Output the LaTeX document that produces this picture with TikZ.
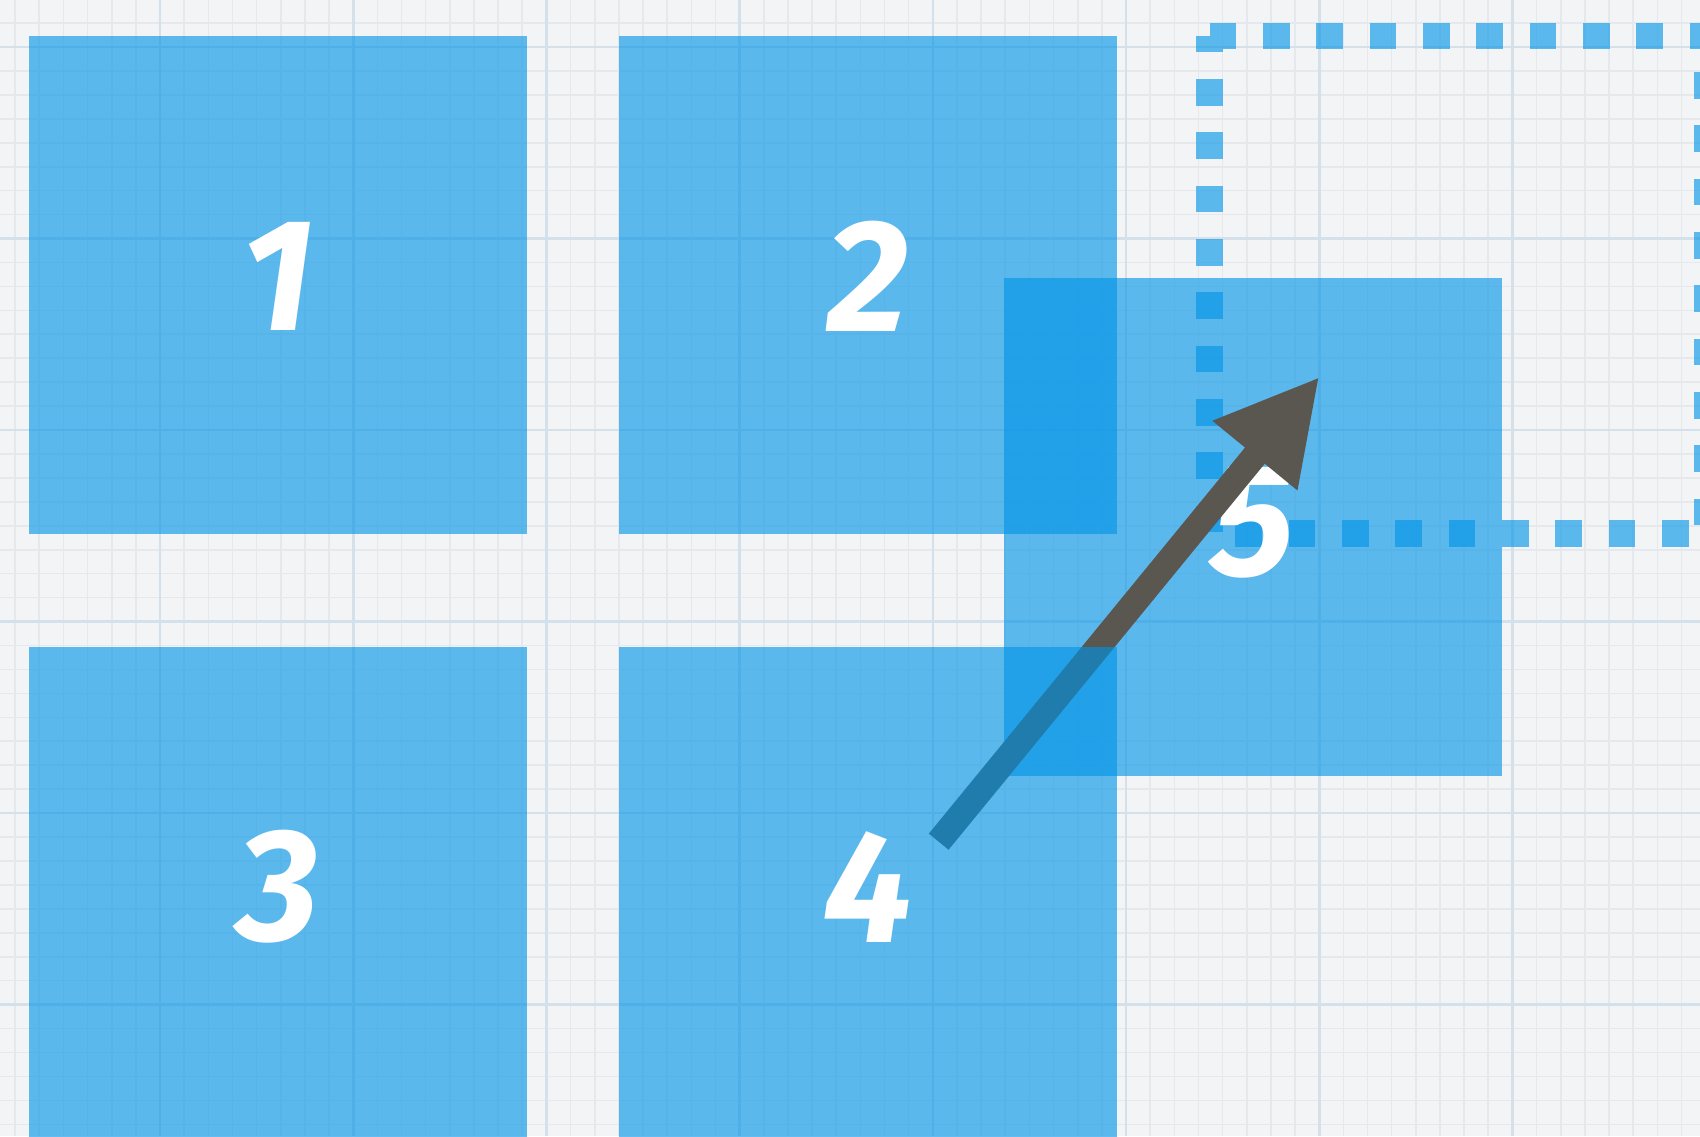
\documentclass[tikz,border=0pt]{standalone}
\usepackage{fontspec}
\newfontfamily\numfont{Fira Sans}
\usetikzlibrary{arrows.meta}
\definecolor{paper}{RGB}{243,244,246}
\definecolor{gridminor}{RGB}{229,233,237}
\definecolor{gridmajor}{RGB}{212,225,234}
\definecolor{boxblue}{RGB}{0,148,232}
\definecolor{arrowgrey}{RGB}{90,86,80}
\tikzset{
  tile/.style={fill=boxblue, fill opacity=0.625, draw=none, minimum width=497.5pt,
    minimum height=497.5pt, inner sep=0pt, outer sep=0pt},
  numlabel/.style={text=white, inner sep=0pt,
    font=\numfont\bfseries\itshape\fontsize{160}{160}\selectfont},
  minorgrid/.style={draw=gridminor, line width=1.6pt},
  majorgrid/.style={draw=gridmajor, line width=2.6pt},
  ghost/.style={draw=boxblue, draw opacity=0.625, line width=26.7pt,
    dash pattern=on 26.67pt off 26.67pt, line cap=butt, line join=miter},
  arrowline/.style={draw=arrowgrey, fill=arrowgrey, line width=25.5pt,
    -{Triangle[length=102pt,width=102pt]}}
}
\begin{document}
\begin{tikzpicture}[x=1pt,y=-1pt]
\useasboundingbox (0,0) rectangle (1700,1136);
\clip (0,0) rectangle (1700,1136);
% paper with grid
\fill[paper] (0,0) rectangle (1700,1136);
\foreach \i in {-7,...,64} {
  \pgfmathsetmacro\xx{160+24.15*\i}
  \draw[minorgrid] (\xx,0) -- (\xx,1136);
}
\foreach \i in {-2,...,46} {
  \pgfmathsetmacro\yy{47+23.94*\i}
  \draw[minorgrid] (0,\yy) -- (1700,\yy);
}
\foreach \i in {-1,...,8} {
  \pgfmathsetmacro\xx{160+193.2*\i}
  \draw[majorgrid] (\xx,0) -- (\xx,1136);
}
\foreach \i in {0,...,5} {
  \pgfmathsetmacro\yy{47+191.5*\i}
  \draw[majorgrid] (0,\yy) -- (1700,\yy);
}
% tiles 1-3
\node[tile] (b1) at (278,285) {};
\node[tile] (b2) at (868,285) {};
\node[tile] (b3) at (278,896) {};
\node[numlabel] (n1) at ([yshift=9pt]b1.center) {1};
\node[numlabel] (n2) at ([yshift=9pt]b2.center) {2};
\node[numlabel] (n3) at ([yshift=9pt]b3.center) {3};
% dotted target outline
\coordinate (g1) at (1209.5,36);
\coordinate (g2) at (1707,36);
\coordinate (g3) at (1707,533.5);
\coordinate (g4) at (1209.5,533.5);
\draw[ghost] (g1) -- (g2) -- (g3) -- (g4) -- (g1);
% tile 5
\node[tile] (b5) at (1253,527) {};
\node[numlabel] (n5) at ([yshift=4pt]b5.center) {5};
% arrow
\coordinate (tail) at (938.7,841.7);
\coordinate (tip) at (1319.5,376.7);
\draw[arrowline] (tail) -- (tip);
% tile 4 above the arrow
\node[tile] (b4) at (868,896) {};
\node[numlabel] (n4) at ([yshift=9pt]b4.center) {4};
\end{tikzpicture}
\end{document}
